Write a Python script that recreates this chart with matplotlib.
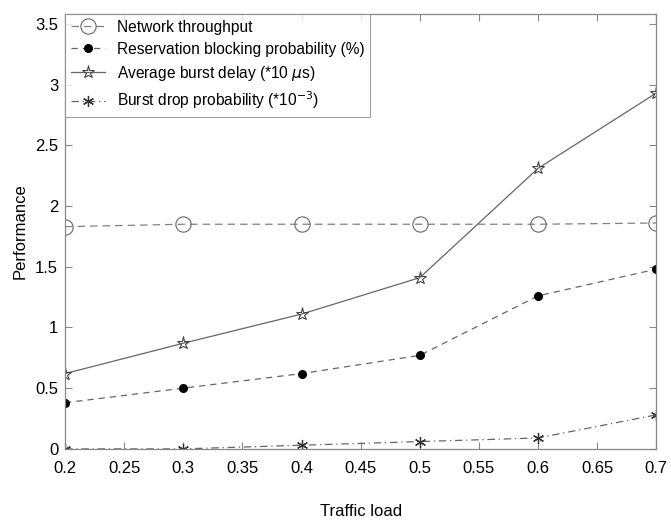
import matplotlib
matplotlib.use("Agg")
import matplotlib.pyplot as plt

plt.rcParams['font.family'] = ['Liberation Sans', 'DejaVu Sans']

load = [0.2, 0.3, 0.4, 0.5, 0.6, 0.7]
throughput = [1.83, 1.85, 1.85, 1.85, 1.85, 1.86]
blocking = [0.38, 0.50, 0.62, 0.77, 1.26, 1.48]
delay = [0.62, 0.87, 1.11, 1.41, 2.31, 2.93]
drop = [0.0, 0.0, 0.03, 0.06, 0.09, 0.28]

labels = ["Network throughput",
          "Reservation blocking probability (%)",
          r"Average burst delay (*10 $\mu$s)",
          r"Burst drop probability (*10$^{-3}$)"]

fig = plt.figure(figsize=(6.71, 5.25), dpi=100)
ax = fig.add_axes([0.097, 0.145, 0.881, 0.828])

lc = '#666666'
ax.plot(load, throughput, linestyle=(0, (6, 4)), color='#808080', lw=0.9,
        marker='o', markersize=11, markerfacecolor='none', markeredgecolor='#666666',
        markeredgewidth=0.8, label=labels[0])
ax.plot(load, blocking, linestyle=(0, (5, 4)), color=lc, lw=0.9,
        marker='o', markersize=5.5, markerfacecolor='black', markeredgecolor='black',
        label=labels[1])
ax.plot(load, delay, linestyle='-', color=lc, lw=0.9,
        marker='*', markersize=9.5, markerfacecolor='none', markeredgecolor='#444444',
        markeredgewidth=0.8, label=labels[2])
ax.plot(load, drop, linestyle=(0, (6, 3, 1, 3)), color=lc, lw=0.9,
        marker=(6, 2, 0), markersize=8, markeredgecolor='#333333',
        markeredgewidth=0.9, label=labels[3])

ax.set_xlim(0.2, 0.7)
ax.set_ylim(0, 3.58)
ax.set_xticks([0.2, 0.25, 0.3, 0.35, 0.4, 0.45, 0.5, 0.55, 0.6, 0.65, 0.7])
ax.set_xticklabels(['0.2', '0.25', '0.3', '0.35', '0.4', '0.45', '0.5', '0.55', '0.6', '0.65', '0.7'])
ax.set_yticks([0, 0.5, 1, 1.5, 2, 2.5, 3, 3.5])
ax.set_yticklabels(['0', '0.5', '1', '1.5', '2', '2.5', '3', '3.5'])
ax.tick_params(direction='in', top=True, right=True, length=5, width=0.8,
               color='#888888', labelsize=12)
ax.tick_params(axis='x', pad=9)
ax.tick_params(axis='y', pad=5)
for s in ax.spines.values():
    s.set_color('#888888')
    s.set_linewidth(0.9)

ax.set_xlabel('Traffic load', fontsize=12, labelpad=20)
ax.set_ylabel('Performance', fontsize=12, labelpad=5)

leg = ax.legend(loc='upper left', bbox_to_anchor=(0.0, 1.0), fontsize=11.2,
                frameon=True, fancybox=False, handlelength=2.2, handletextpad=0.8,
                borderpad=0.35, labelspacing=0.45, borderaxespad=0.0)
leg.get_frame().set_edgecolor('#888888')
leg.get_frame().set_linewidth(0.8)

fig.savefig('out.png', dpi=100)
